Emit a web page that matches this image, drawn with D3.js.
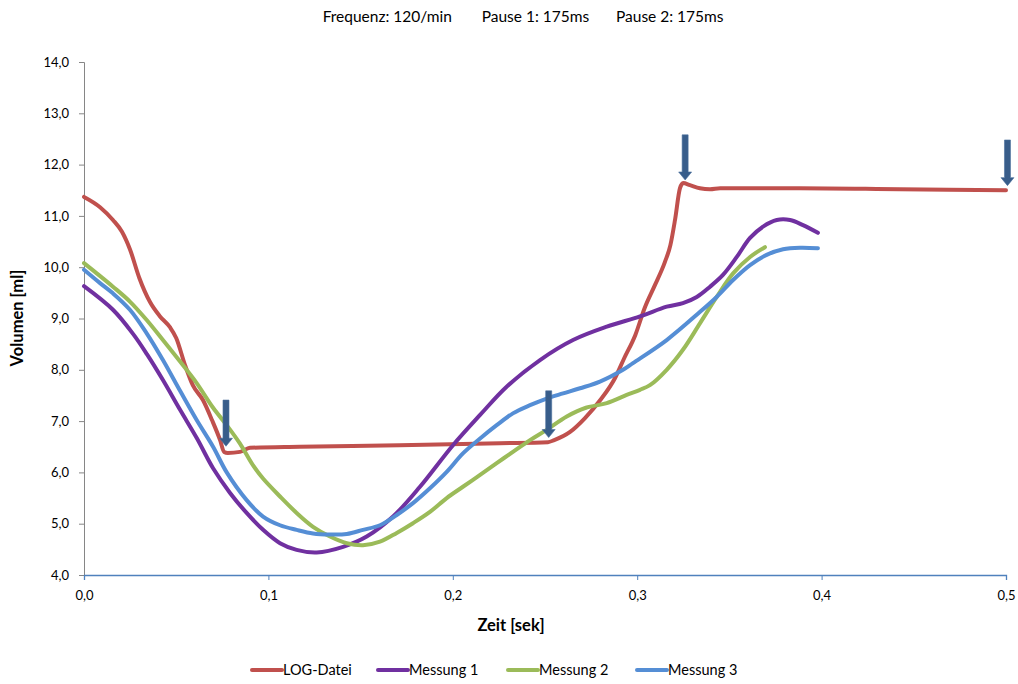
<!DOCTYPE html>
<html><head><meta charset="utf-8">
<script src="https://cdn.jsdelivr.net/npm/d3@7"></script>
<style>body{margin:0;background:#fff}svg{display:block}text{font-family:Lato,"Liberation Sans",sans-serif}</style>
</head><body>
<svg id="c" width="1018" height="684"></svg>
<script>
const seriesNames = ["LOG-Datei","Messung 1","Messung 2","Messung 3"];
const seriesColors = ["#C0504D","#7030A0","#9BBB59","#558ED5"];
const logT = [0,0.0087,0.0157,0.0206,0.025,0.030,0.0358,0.041,0.0466,0.050,0.0548,0.059,0.0645,0.0694,0.0738,0.076,0.078,0.0846,0.090,0.117,0.171,0.2256,0.2516,0.255,0.2636,0.2717,0.280,0.288,0.293,0.299,0.304,0.3096,0.315,0.318,0.3205,0.3232,0.3249,0.3286,0.334,0.3395,0.345,0.388,0.4425,0.5];
const logV = [11.37,11.17,10.92,10.69,10.34,9.79,9.32,9.05,8.83,8.62,8.09,7.70,7.41,7.02,6.63,6.40,6.38,6.40,6.48,6.50,6.53,6.57,6.59,6.63,6.79,7.06,7.41,7.84,8.23,8.68,9.20,9.65,10.10,10.43,10.92,11.54,11.64,11.60,11.54,11.52,11.54,11.54,11.52,11.50];
const m1T = [0,0.0157,0.0266,0.0342,0.0428,0.0521,0.0613,0.0700,0.0792,0.0882,0.0971,0.1063,0.1153,0.1262,0.1405,0.1533,0.1676,0.1822,0.2001,0.2148,0.2292,0.2473,0.2652,0.2835,0.3015,0.3160,0.3248,0.3323,0.3395,0.3465,0.3540,0.3612,0.3682,0.3757,0.3829,0.3899,0.3980];
const m1V = [9.63,9.17,8.70,8.30,7.80,7.22,6.66,6.08,5.60,5.21,4.88,4.62,4.49,4.44,4.55,4.75,5.14,5.72,6.53,7.12,7.67,8.19,8.58,8.84,9.04,9.23,9.30,9.42,9.62,9.85,10.20,10.57,10.79,10.92,10.92,10.82,10.67];
const m2T = [0,0.0069,0.0157,0.0249,0.0340,0.0428,0.0521,0.0611,0.0700,0.0774,0.0846,0.0916,0.0971,0.1063,0.1153,0.1242,0.1334,0.1425,0.1513,0.1605,0.1696,0.1784,0.1876,0.1967,0.2055,0.2148,0.2238,0.2326,0.2419,0.2509,0.2618,0.2722,0.2835,0.2943,0.3015,0.3069,0.3160,0.3248,0.3341,0.3431,0.3520,0.3612,0.3693];
const m2V = [10.08,9.88,9.62,9.33,8.97,8.58,8.16,7.74,7.26,6.92,6.56,6.14,5.88,5.53,5.21,4.94,4.75,4.62,4.58,4.65,4.82,5.01,5.23,5.50,5.72,5.95,6.18,6.40,6.63,6.83,7.09,7.26,7.35,7.51,7.61,7.70,8.00,8.39,8.91,9.42,9.88,10.20,10.39];
const m3T = [0,0.0087,0.0157,0.0249,0.0340,0.0428,0.0521,0.0611,0.0700,0.0774,0.0882,0.0971,0.1063,0.1153,0.1242,0.1334,0.1425,0.1513,0.1605,0.1696,0.1784,0.1876,0.1967,0.2055,0.2148,0.2238,0.2326,0.2419,0.2509,0.2598,0.2690,0.2798,0.2923,0.2977,0.3160,0.3341,0.3431,0.3520,0.3612,0.3702,0.3791,0.3883,0.3980];
const m3V = [9.95,9.69,9.49,9.17,8.71,8.19,7.59,7.02,6.50,6.00,5.46,5.14,4.97,4.88,4.81,4.79,4.80,4.88,4.97,5.17,5.40,5.69,6.01,6.37,6.66,6.92,7.15,7.31,7.44,7.54,7.64,7.77,8.00,8.13,8.58,9.13,9.42,9.75,10.04,10.24,10.35,10.38,10.37];
const xTicks = [0,0.1,0.2,0.3,0.4,0.5];
const yTicks = [4,5,6,7,8,9,10,11,12,13,14];
const arrowT = [0.077,0.252,0.326,0.5008];
const arrowTop = [7.41,7.59,12.58,12.48];
const arrowTip = [6.51,6.68,11.70,11.59];
const titleParts = ["Frequenz: 120/min","Pause 1: 175ms","Pause 2: 175ms"];

const svg = d3.select("#c");
const x = d3.scaleLinear().domain([0,0.5]).range([84,1006]);
const y = d3.scaleLinear().domain([4,14]).range([575,62]);
const fmt = d => d3.format(".1f")(d).replace(".", ",");

// title
const tp = [322.7, 481.7, 616];
svg.selectAll("text.title").data(titleParts).join("text").attr("class","title")
  .attr("x",(d,i)=>tp[i]).attr("y",22).attr("font-size",15.5).attr("fill","#000").text(d=>d);

// y axis
const ya = svg.append("g").attr("transform","translate(84,0)")
  .call(d3.axisLeft(y).tickValues(yTicks).tickFormat(fmt).tickSize(5).tickPadding(10));
ya.select(".domain").attr("stroke","#868686");
ya.selectAll(".tick line").attr("stroke","#868686");
ya.selectAll("text").attr("font-size",13).attr("font-family","Lato").attr("fill","#000");

// x axis
const xa = svg.append("g").attr("transform","translate(0,575)")
  .call(d3.axisBottom(x).tickValues(xTicks).tickFormat(fmt).tickSize(5).tickPadding(11));
xa.select(".domain").attr("stroke","#4F81BD").attr("stroke-width",1.3);
xa.selectAll(".tick line").attr("stroke","#4F81BD");
xa.selectAll("text").attr("font-size",13).attr("font-family","Lato").attr("fill","#000");

// axis titles
svg.append("text").attr("x",511).attr("y",631).attr("text-anchor","middle")
  .attr("font-size",16.5).attr("font-weight","bold").text("Zeit [sek]");
svg.append("text").attr("transform","translate(23,318) rotate(-90)").attr("text-anchor","middle")
  .attr("font-size",16.5).attr("font-weight","bold").text("Volumen [ml]");

// lines
const tArr = [logT,m1T,m2T,m3T], vArr = [logV,m1V,m2V,m3V];
const lineRed = d3.line().x(d=>x(d[0])).y(d=>y(d[1])).curve(d3.curveMonotoneX);
const lineSmooth = d3.line().x(d=>x(d[0])).y(d=>y(d[1])).curve(d3.curveCatmullRom.alpha(0.5));
[0,1,2,3].forEach(i=>{
  const pts = tArr[i].map((t,j)=>[t,vArr[i][j]]);
  svg.append("path").attr("d",(i===0?lineRed:lineSmooth)(pts)).attr("fill","none")
    .attr("stroke",seriesColors[i]).attr("stroke-width",4)
    .attr("stroke-linejoin","round").attr("stroke-linecap","round");
});

// arrows
arrowT.forEach((t,i)=>{
  const cx = x(t), top = y(arrowTop[i]), tip = y(arrowTip[i]);
  const sw = 3, hw = 6.5, hh = 8;
  const p = [[cx-sw,top],[cx+sw,top],[cx+sw,tip-hh],[cx+hw,tip-hh],[cx,tip],[cx-hw,tip-hh],[cx-sw,tip-hh]];
  svg.append("path").attr("d","M"+p.map(q=>q.join(",")).join("L")+"Z")
    .attr("fill","#385D8A").attr("stroke","#4A6E9C").attr("stroke-width",0.6);
});

// legend
const lgX = [252,378,508,637];
seriesNames.forEach((n,i)=>{
  svg.append("line").attr("x1",lgX[i]).attr("x2",lgX[i]+30).attr("y1",670).attr("y2",670)
    .attr("stroke",seriesColors[i]).attr("stroke-width",4).attr("stroke-linecap","round");
  svg.append("text").attr("x",lgX[i]+31).attr("y",675).attr("font-size",14.5).text(n);
});
</script>
</body></html>
